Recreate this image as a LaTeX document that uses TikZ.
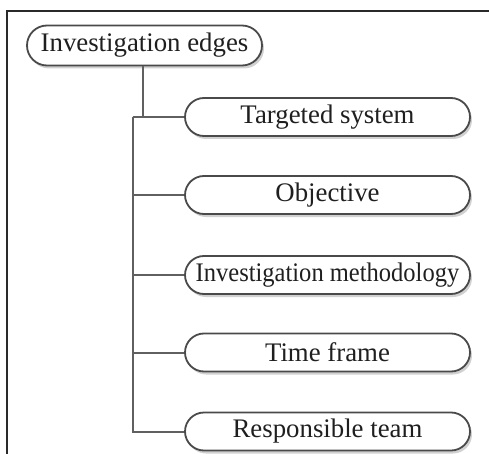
\documentclass[tikz,border=0pt]{standalone}
\usepackage{fontspec}
\setmainfont{Liberation Serif}
\usetikzlibrary{shapes.misc,shadows}
\definecolor{boxline}{HTML}{4A4A4A}
\definecolor{conn}{HTML}{606060}
\definecolor{framec}{HTML}{2A2A2A}
\begin{document}
\begin{tikzpicture}[x=1pt,y=-1pt,
  pill/.style={rounded rectangle, draw=boxline, line width=1.8pt, fill=white,
    inner sep=0pt, text=black!88,
    font=\fontsize{26.8}{30}\selectfont,
    drop shadow={shadow xshift=2pt, shadow yshift=-3pt, fill=black!18, opacity=1}},
  rootbox/.style={pill, minimum width=235pt, minimum height=40pt},
  childbox/.style={pill, minimum width=285pt, minimum height=38pt},
  link/.style={draw=conn, line width=2pt}]
\useasboundingbox (0,0) rectangle (489,454);
\draw[framec, line width=2pt] (7,456) -- (7,11) -- (491,11);
\node[rootbox] (root) at (144.5,45.5) {Investigation edges};
\node[childbox] (c1) at (327.5,117) {Targeted system};
\node[childbox] (c2) at (327.5,195) {Objective};
\node[childbox] (c3) at (327.5,275) {\scalebox{0.915}[1]{Investigation methodology}};
\node[childbox] (c4) at (327.5,352.5) {Time frame};
\node[childbox] (c5) at (327.5,431.5) {Responsible team};
\coordinate (t) at (132.5,117);
\draw[link] (root.south -| 143,0) -- (143,117);
\draw[link] (t) -- (c1.west);
\draw[link] (t) |- (c5.west);
\draw[link] (t |- c2.west) -- (c2.west);
\draw[link] (t |- c3.west) -- (c3.west);
\draw[link] (t |- c4.west) -- (c4.west);
\end{tikzpicture}
\end{document}
